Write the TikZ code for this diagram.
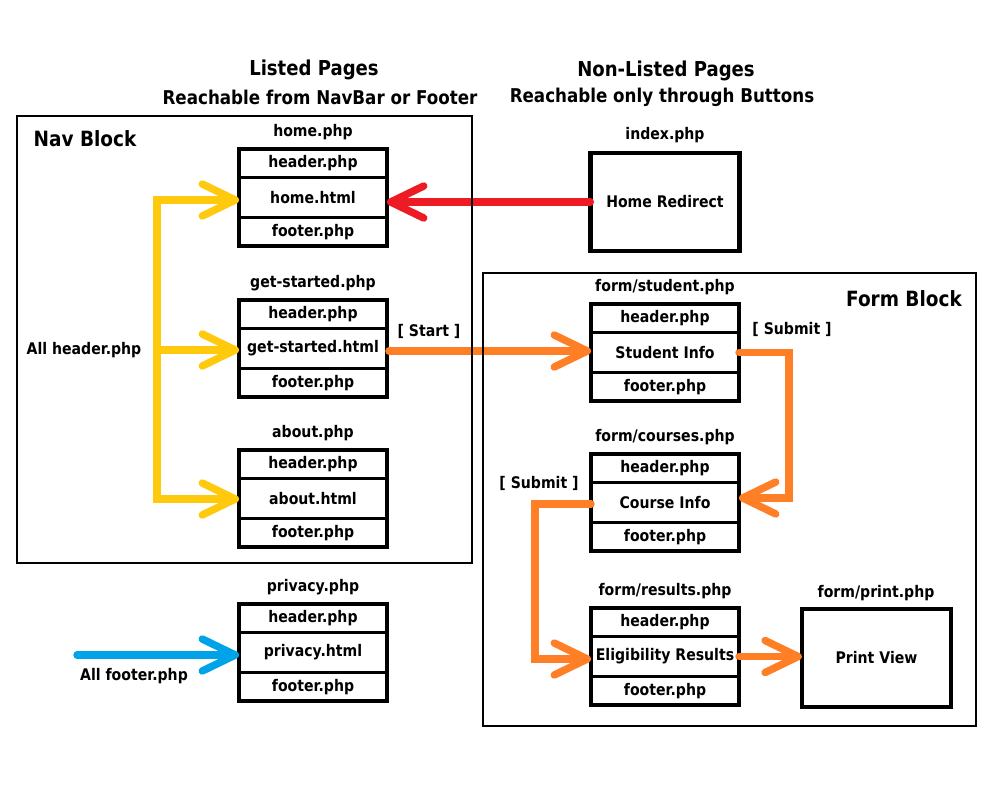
\documentclass[tikz,border=0pt]{standalone}
\usepackage{fontspec}
\setmainfont{DejaVu Sans}[FakeStretch=0.88]
\usetikzlibrary{arrows.meta,fit}
\definecolor{pyellow}{HTML}{FFC90E}
\definecolor{pred}{HTML}{ED1C24}
\definecolor{porange}{HTML}{FF7F27}
\definecolor{pblue}{HTML}{00A2E8}
\tikzset{
  body/.style={font=\bfseries\fontsize{12pt}{14pt}\selectfont, inner sep=0pt},
  title/.style={font=\bfseries\fontsize{15.75pt}{18pt}\selectfont, inner sep=0pt},
  headA/.style={font=\bfseries\fontsize{15.4pt}{18pt}\selectfont, inner sep=0pt},
  headB/.style={font=\bfseries\fontsize{14.25pt}{17pt}\selectfont, inner sep=0pt},
  row/.style={draw, line width=2pt, minimum width=111pt, inner sep=0pt, outer sep=0pt, anchor=north},
  hrow/.style={row, minimum height=21.4pt},
  mrow/.style={row, minimum height=30pt},
  outerbox/.style={draw, line width=3.2pt, inner sep=0pt, outer sep=0pt},
  pagebox/.style={draw, line width=3.4pt, inner sep=0pt, outer sep=0pt, minimum width=112pt, minimum height=73.5pt},
  blockbox/.style={draw, line width=1.5pt, inner sep=0pt, outer sep=0pt},
  conn/.style={line width=5.6pt, line cap=round, line join=miter,
    -{Straight Barb[length=24.75pt,width=24pt,round]}},
}
\newcommand\pagestack[5]{%
  \node[hrow, body] (#1h) at (#2,#3) {header.php};
  \node[mrow, body] (#1m) at (#1h.south) {#5};
  \node[hrow, body] (#1f) at (#1m.south) {footer.php};
  \node[outerbox, fit=(#1h)(#1f)] (#1) {};
  \node[body] (#1l) at ([yshift=12.75pt]#1.north) {#4};
}
\begin{document}
\begin{tikzpicture}[x=0.75pt,y=-0.75pt]
\useasboundingbox (0,0) rectangle (1000,800);

% headings
\node[headA] (h1) at (314,70) {Listed Pages};
\node[headB] (h1b) at (320,97) {Reachable from NavBar or Footer};
\node[headA] (h2) at (666,71) {Non-Listed Pages};
\node[headB] (h2b) at (662,97) {Reachable only through Buttons};

% page stacks
\pagestack{home}{313}{149}{home.php}{home.html}
\pagestack{gs}{313}{300}{get-started.php}{get-started.html}
\pagestack{ab}{313}{450}{about.php}{about.html}
\pagestack{pr}{313}{604}{privacy.php}{privacy.html}
\pagestack{st}{665}{304}{form/student.php}{Student Info}
\pagestack{co}{665}{454}{form/courses.php}{Course Info}
\pagestack{re}{665}{608}{form/results.php}{Eligibility Results}

\node[pagebox, body] (ix) at (665,202) {Home Redirect};
\node[body] (ixl) at (665,135) {index.php};
\node[pagebox, body] (pv) at (876.5,658) {Print View};
\node[body] (pvl) at (876,593) {form/print.php};

% labels
\node[body] (allh) at (84,350) {All header.php};
\node[body] (allf) at (134,676) {All footer.php};
\node[body] (startl) at (429,331) {[ Start ]};
\node[body] (sub1) at (792,329) {[ Submit ]};
\node[body] (sub2) at (539,483) {[ Submit ]};

% yellow connectors
\coordinate (ytop) at (157,200);
\coordinate (ybot) at (157,499);
\coordinate (ymid) at (157,350);
\draw[conn, pyellow, {Straight Barb[length=24.75pt,width=24pt,round]}-{Straight Barb[length=24.75pt,width=24pt,round]}]
  (ytop -| homem.west) -- (ytop) -- (ybot) -- (ybot -| abm.west);
\draw[conn, pyellow] (ymid) -- (ymid -| gsm.west);

% red connector
\draw[conn, pred] (ix.west) -- (ix.west -| homem.east);

% orange connectors
\coordinate (o0) at (389,351);
\draw[conn, porange] (o0) -- (o0 -| stm.west);
\coordinate (o1) at (789,498);
\draw[conn, porange] (stm.east) -| (o1) -- (o1 -| com.east);
\coordinate (o2) at (535,504);
\coordinate (o3) at (535,659);
\draw[conn, porange] (o2 -| com.west) -- (o2) -- (o3) -- (o3 -| rem.west);
\draw[conn, porange] (rem.east) -- (rem.east -| pv.west);

% blue connector
\coordinate (bs) at (77,655);
\draw[conn, pblue] (bs) -- (bs -| prm.west);

% blocks
\node[blockbox, minimum width=341.25pt, minimum height=335.25pt] (navblock) at (244.5,339.5) {};
\node[title] (navt) at (85,139) {Nav Block};
\node[blockbox, minimum width=369.75pt, minimum height=339.75pt] (formblock) at (729.5,499.5) {};
\node[title] (formt) at (904,299) {Form Block};
\end{tikzpicture}
\end{document}
